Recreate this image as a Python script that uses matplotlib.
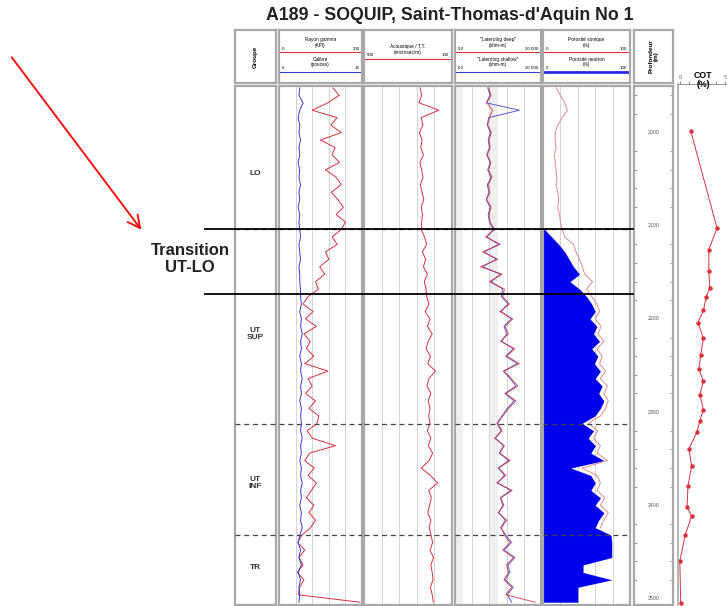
import numpy as np
import matplotlib.pyplot as plt
import matplotlib.transforms as mtransforms
from matplotlib.lines import Line2D
from matplotlib.patches import FancyArrowPatch

W, H = 727, 606
FONT = 'Liberation Sans'

# depth samples (m)
DEPTH = [1952, 1960, 1968, 1976, 1984, 1992, 2000, 2008, 2016, 2024,
         2032, 2040, 2048, 2056, 2064, 2072, 2080, 2088, 2096, 2104,
         2112, 2120, 2128, 2136, 2144, 2152, 2160, 2168, 2176, 2184,
         2192, 2200, 2208, 2216, 2224, 2232, 2240, 2248, 2256, 2264,
         2272, 2280, 2288, 2296, 2304, 2312, 2320, 2328, 2336, 2344,
         2352, 2360, 2368, 2376, 2384, 2392, 2400, 2408, 2416, 2424,
         2432, 2440, 2448, 2456, 2464, 2472, 2480, 2488, 2496, 2504]

# rayon gamma (API)
GR = [130, 145, 118, 80, 140, 125, 150, 100, 135, 128, 146, 112, 138, 150, 126, 142, 155, 138, 160,
      150, 128, 140, 112, 120, 98, 110, 88, 95,
      70, 58, 82, 64, 90, 60, 75, 66, 84, 62, 118, 70, 80, 64, 88, 72, 96,
      92, 68, 80, 136, 74, 62, 85, 70, 90, 78, 66, 84, 72, 88, 76,
      55, 45, 62, 48, 58, 44, 60, 50, 46, 195]

# calibre (pouces)
CALI = [8.5, 8.4, 8.9, 8.5, 8.3, 8.5, 8.4, 8.6, 8.4, 8.5, 8.3, 8.5, 8.4, 8.6, 8.4, 8.5, 8.3, 8.5, 8.4,
        8.5, 8.6, 8.4, 8.5, 8.6, 8.4, 8.5, 8.5, 8.6,
        8.6, 8.7, 8.5, 8.7, 8.6, 8.8, 8.6, 8.7, 8.5, 8.7, 8.6, 8.8, 8.6, 8.7, 8.5, 8.7, 8.6,
        8.7, 8.6, 8.8, 8.6, 8.7, 8.5, 8.7, 8.6, 8.8, 8.6, 8.7, 8.5, 8.7, 8.6, 8.8,
        8.5, 8.3, 8.6, 8.4, 8.7, 8.3, 8.6, 8.4, 8.5, 8.4]

# acoustique (microsec/m)
DT = [245, 238, 250, 160, 240, 232, 248, 236, 242, 230, 246, 238, 232, 244, 236, 228, 240, 234, 238,
      240, 225, 215, 235, 220, 230, 212, 226, 218,
      215, 205, 222, 200, 212, 190, 208, 218, 198, 210, 175, 205, 214, 196, 208, 200, 206,
      200, 212, 196, 208, 188, 204, 240, 198, 165, 206, 194, 202, 210, 196, 204,
      195, 188, 200, 184, 196, 190, 186, 198, 190, 185]

# laterolog deep / shallow (ohm-m)
LLD = [18, 25, 14, 30, 20, 16, 26, 19, 22, 15, 24, 18, 28, 17, 21, 14, 25, 19, 22,
       40, 12, 85, 8, 60, 6, 110, 20, 150,
       120, 300, 80, 450, 160, 250, 90, 600, 200, 1100, 140, 380, 900, 180, 700, 260, 120,
       60, 110, 40, 150, 80, 320, 70, 180, 55, 420, 90, 140, 65, 200, 100,
       150, 320, 120, 500, 200, 260, 140, 400, 180, 9000]
LLS = [16, 22, 13, 1100, 18, 15, 23, 17, 20, 14, 22, 16, 25, 15, 19, 13, 22, 17, 20,
       35, 14, 70, 10, 50, 8, 90, 25, 120,
       100, 240, 95, 380, 140, 210, 100, 480, 180, 850, 130, 320, 700, 160, 550, 220, 110,
       55, 95, 45, 130, 75, 260, 65, 150, 60, 350, 85, 120, 70, 170, 90,
       180, 380, 140, 600, 240, 300, 170, 480, 220, 400]

nan = np.nan
# porosite (%)
PHI_FILL = [nan] * 19 + [
    2, 10, 18, 25, 30, 35, 42, 31, 42,
    50, 56, 60, 54, 62, 58, 65, 56, 63, 59, 66, 60, 68, 64, 70, 66, 60,
    45, 58, 52, 60, 55, 70, 32, 55, 60, 55, 66, 60, 70, 64, 60,
    78, 79, 79, 79, 46, 46, 79, 40, 40, 40]
PHI_LINE = [15, 20, 25, 28, 22, 17, 14, 14, 15, 13, 14, 15, 16, 15, 17, 18, 17, 19, 20,
            22, 25, 35, 38, 42, 45, 48, 57, 50,
            56, 62, 65, 60, 67, 63, 70, 62, 68, 65, 72, 66, 74, 70, 75, 72, 66,
            52, 63, 58, 66, 62, 74, 45, 62, 66, 62, 71, 66, 75, 70, 66] + [nan] * 10

# COT (%)
COT_DEPTH = [2000, 2104, 2127, 2150, 2168, 2178, 2192, 2205, 2222, 2240, 2255, 2268,
             2282, 2298, 2310, 2322, 2340, 2358, 2380, 2402, 2412, 2432, 2460, 2505]
COT = [1.2, 4.1, 3.2, 3.2, 3.3, 2.9, 2.6, 2.0, 2.6, 2.3, 2.1, 2.6,
       2.2, 2.6, 2.2, 1.9, 1.0, 1.3, 0.9, 0.8, 1.3, 0.6, 0.0, 0.1]

GROUPS = ['LO', 'UT\nSUP', 'UT\nINF', 'TR']
GROUP_MID = [2044, 2216, 2376, 2467]
SOLID_TOPS = [2104, 2173]
DASHED_TOPS = [2104, 2313, 2432]
DEPTH_LABELS = [2000, 2100, 2200, 2300, 2400, 2500]

RED = '#d8303c'
BLUE = '#3a3ad8'
EDGE = '#a8a8a8'
YLIM = (2507, 1950)


def rect(x0, y0, x1, y1):
    return [x0 / W, 1 - y1 / H, (x1 - x0) / W, (y1 - y0) / H]


def frame(ax, lw=1.6):
    for s in ax.spines.values():
        s.set_color(EDGE)
        s.set_linewidth(lw)
    ax.tick_params(length=0, labelbottom=False, labelleft=False)


fig = plt.figure(figsize=(W / 100, H / 100), dpi=100)

fig.text(450 / W, 1 - 15 / H, "A189 - SOQUIP, Saint-Thomas-d'Aquin No 1",
         ha='center', va='center', fontsize=12.8, fontweight='bold', family=FONT,
         color='#222222')

cols = {'grp': (235, 276), 't1': (279, 362), 't2': (364, 452),
        't3': (455, 541), 't4': (543, 630), 'dep': (634, 673)}
axd = {}
axh = {}
for k, (x0, x1) in cols.items():
    h = fig.add_axes(rect(x0, 30, x1, 83))
    frame(h)
    h.set_xlim(0, 1)
    h.set_ylim(0, 1)
    axh[k] = h
    a = fig.add_axes(rect(x0, 86, x1, 605))
    frame(a)
    a.set_ylim(*YLIM)
    axd[k] = a

# --- headers
def head(ax, y, lines, color, left, right, lw=0.8):
    for i, t in enumerate(lines):
        ax.text(0.5, y + 0.24 - i * 0.11, t, ha='center', va='center', fontsize=3.4, family=FONT)
    ax.text(0.03, y + 0.07, left, ha='left', va='center', fontsize=3.2, family=FONT)
    ax.text(0.97, y + 0.07, right, ha='right', va='center', fontsize=3.2, family=FONT)
    ax.plot([0, 1], [y, y], color=color, lw=lw)

head(axh['t1'], 0.58, ['Rayon gamma', '(API)'], RED, '0', '200')
head(axh['t1'], 0.21, ['Calibre', '(pouces)'], BLUE, '6', '16')
head(axh['t2'], 0.45, ['Acoustique / T.T.', '(microsec/m)'], RED, '500', '100')
head(axh['t3'], 0.58, ['"Laterolog deep"', '(ohm-m)'], RED, '0.2', '20 000')
head(axh['t3'], 0.21, ['"Laterolog shallow"', '(ohm-m)'], BLUE, '0.2', '20 000')
head(axh['t4'], 0.58, ['Porosité sonique', '(%)'], RED, '0', '100')
head(axh['t4'], 0.21, ['Porosité neutron', '(%)'], '#2a2ae0', '0', '100', lw=2)
axh['grp'].text(0.5, 0.5, 'Groupe', rotation=90, ha='center', va='center',
                fontsize=4.5, fontweight='bold', family=FONT)
axh['dep'].text(0.5, 0.5, 'Profondeur\n(m)', rotation=90, ha='center', va='center',
                fontsize=4.5, fontweight='bold', family=FONT, linespacing=1.0)

# --- tracks
t1 = axd['t1']
t1.set_xlim(0, 200)
t1.set_xticks([40, 80, 120, 160])
t1.grid(axis='x', color='#d4d4d4', lw=0.7)
cal_ax = t1.twiny()
cal_ax.set_xlim(6, 16)
cal_ax.axis('off')
cal_ax.plot(CALI, DEPTH, color=BLUE, lw=0.7)
t1.plot(GR, DEPTH, color=RED, lw=0.7)

t2 = axd['t2']
t2.set_xlim(500, 100)
t2.set_xticks([420, 340, 260, 180])
t2.grid(axis='x', color='#d4d4d4', lw=0.7)
t2.plot(DT, DEPTH, color=RED, lw=0.7)

t3 = axd['t3']
t3.set_xscale('log')
t3.set_xlim(0.2, 20000)
t3.set_xticks([2, 20, 200, 2000])
t3.minorticks_off()
t3.grid(axis='x', color='#d4d4d4', lw=0.7)
for a0, a1 in [(0.2, 0.6), (20, 60)]:
    t3.axvspan(a0, a1, color='#efefef', lw=0, zorder=0)
t3.plot(LLS, DEPTH, color=BLUE, lw=0.7, alpha=0.85)
t3.plot(LLD, DEPTH, color=RED, lw=0.7, alpha=0.85)
t3.tick_params(length=0, labelbottom=False, which='both')

t4 = axd['t4']
t4.set_xlim(0, 100)
t4.set_xticks([20, 40, 60, 80])
t4.grid(axis='x', color='#d4d4d4', lw=0.7)
t4.fill_betweenx(DEPTH, 0, PHI_FILL, color='#0000ee', lw=0, zorder=2)
t4.plot(PHI_LINE, DEPTH, color='#e08a90', lw=0.7, zorder=3)

# --- formation limits
for k in ['grp', 't1', 't2', 't3', 't4']:
    for d in DASHED_TOPS:
        axd[k].axhline(d, color='#444444', lw=0.9, ls=(0, (4, 3)), zorder=4)
    axd[k].set_ylim(*YLIM)

blend = mtransforms.blended_transform_factory(fig.transFigure, axd['t1'].transData)
for d in SOLID_TOPS:
    fig.add_artist(Line2D([205 / W, 633 / W], [d, d], transform=blend,
                          color='black', lw=1.3, zorder=10))

g = axd['grp']
for name, d in zip(GROUPS, GROUP_MID):
    g.text(0.5, d, name, transform=mtransforms.blended_transform_factory(g.transAxes, g.transData),
           ha='center', va='center', fontsize=6, fontweight='bold', family=FONT,
           color='#333333', linespacing=1.0)

# --- depth column
dep = axd['dep']
dep.set_yticks(np.arange(1960, 2507, 20), minor=True)
dep.tick_params(which='minor', direction='in', left=True, right=True, length=2.5,
                color='#888888', width=0.6)
for d in DEPTH_LABELS:
    dep.text(0.5, d, str(d), transform=mtransforms.blended_transform_factory(dep.transAxes, dep.transData),
             ha='center', va='center', fontsize=3.8, family=FONT, color='#555555')

# --- COT
cot = fig.add_axes(rect(678, 84, 727, 605))
cot.set_ylim(*YLIM)
cot.set_xlim(-0.2, 5.2)
for s in ['bottom', 'right']:
    cot.spines[s].set_visible(False)
cot.spines['left'].set_color(EDGE)
cot.spines['left'].set_linewidth(1.2)
cot.spines['top'].set_color('#888888')
cot.spines['top'].set_linewidth(0.6)
cot.xaxis.tick_top()
cot.set_xticks([0, 1, 2, 3, 4, 5])
cot.set_xticklabels(['0', '', '', '', '', '5'])
cot.tick_params(axis='x', length=2, width=0.5, labelsize=3.5, pad=1, colors='#555555')
cot.set_yticks([])
cot.plot(COT, COT_DEPTH, color=RED, lw=0.7, marker='o', ms=2.2, mfc=RED, mec=RED)
fig.text(703 / W, 1 - 80 / H, 'COT\n(%)', ha='center', va='center', fontsize=6.3,
         fontweight='bold', family=FONT, linespacing=1.0)

# --- annotation
fig.add_artist(FancyArrowPatch((10 / W, 1 - 55 / H), (143 / W, 1 - 232 / H),
                               transform=fig.transFigure, arrowstyle='->,head_length=0.9,head_width=0.45',
                               mutation_scale=10, color='red', lw=1.3))
fig.text(190 / W, 1 - 259 / H, 'Transition\nUT-LO', ha='center', va='center',
         fontsize=12, fontweight='bold', family=FONT, color='#222222', linespacing=1.15)

fig.savefig('out.png', dpi=100)
